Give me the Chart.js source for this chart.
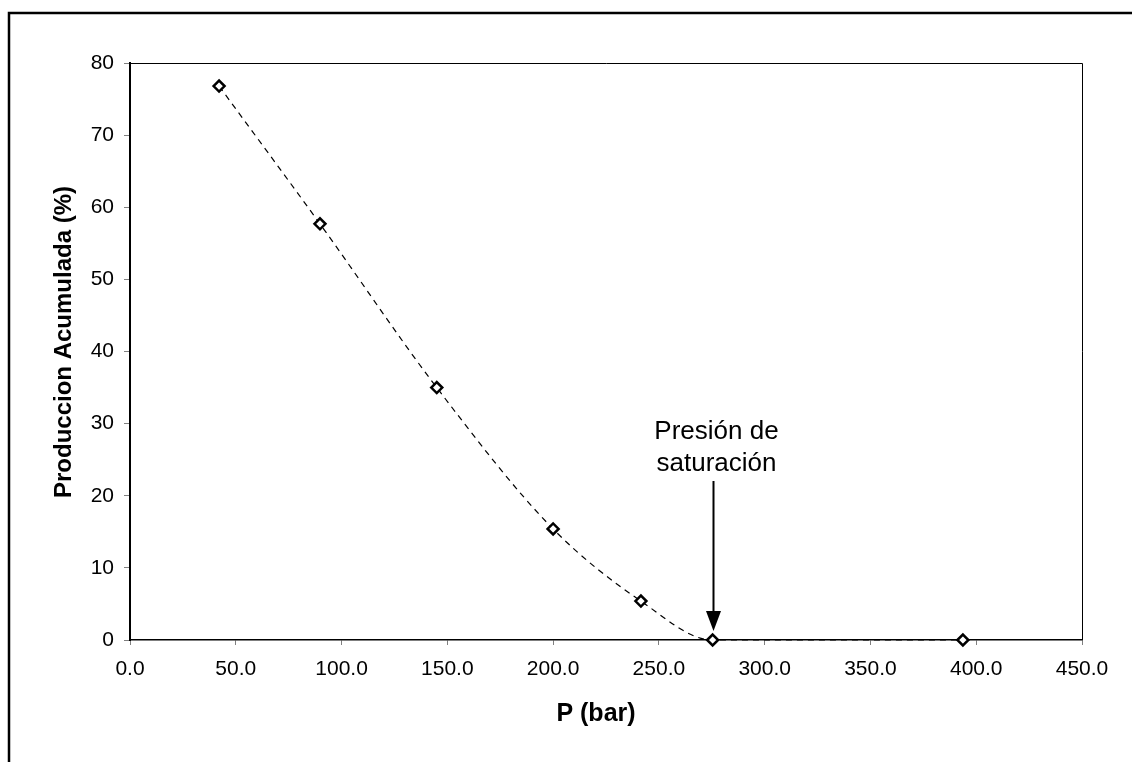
<!DOCTYPE html>
<html>
<head>
<meta charset="utf-8">
<script src="https://cdn.jsdelivr.net/npm/chart.js@4.4.1/dist/chart.umd.min.js"></script>
<style>
  html, body { margin: 0; padding: 0; background: #fff; }
</style>
</head>
<body>
<canvas id="chart" width="1132" height="762"></canvas>
<script>
// presión (bar) vs producción acumulada (%)
const presion = [42.1, 89.8, 145.0, 200.0, 241.5, 275.4, 393.7];
const produccion = [76.8, 57.7, 35.0, 15.4, 5.4, 0.0, 0.0];
const xTicks = [0, 50, 100, 150, 200, 250, 300, 350, 400, 450];
const yTicks = [0, 10, 20, 30, 40, 50, 60, 70, 80];
const presionSaturacion = 275.4;
const notaSaturacion = ['Presión de', 'saturación'];
const tituloX = 'P (bar)';
const tituloY = 'Produccion Acumulada (%)';

const FONT = "'Liberation Sans', Arial, sans-serif";

// marco exterior, borde del area, titulos de ejes y flecha
const extras = {
  id: 'extras',
  beforeDraw(chart) {
    const ctx = chart.ctx;
    ctx.save();
    ctx.fillStyle = '#fff';
    ctx.fillRect(0, 0, chart.width, chart.height);
    ctx.restore();
  },
  beforeDatasetsDraw(chart) {
    const { ctx, chartArea: a } = chart;
    ctx.save();
    ctx.strokeStyle = '#000';
    ctx.lineWidth = 1;
    ctx.beginPath();
    ctx.moveTo(a.left, a.top + 0.5);
    ctx.lineTo(a.right + 0.5, a.top + 0.5);
    ctx.lineTo(a.right + 0.5, a.bottom);
    ctx.stroke();
    ctx.restore();
  },
  afterDraw(chart) {
    const { ctx, scales } = chart;
    ctx.save();

    // marco
    ctx.strokeStyle = '#000';
    ctx.lineWidth = 2.5;
    ctx.beginPath();
    ctx.moveTo(chart.width, 13);
    ctx.lineTo(9, 13);
    ctx.lineTo(9, chart.height);
    ctx.stroke();

    // titulos
    ctx.fillStyle = '#000';
    ctx.textAlign = 'center';
    ctx.textBaseline = 'middle';
    ctx.font = 'bold 25px ' + FONT;
    ctx.fillText(tituloX, 596, 714);
    ctx.font = 'bold 24px ' + FONT;
    ctx.save();
    ctx.translate(64, 342);
    ctx.rotate(-Math.PI / 2);
    ctx.fillText(tituloY, 0, 0);
    ctx.restore();

    // flecha de presion de saturacion
    const x = Math.round(scales.x.getPixelForValue(presionSaturacion)) + 0.5;
    const tip = scales.y.getPixelForValue(0) - 9;
    ctx.lineWidth = 2;
    ctx.beginPath();
    ctx.moveTo(x, tip - 150);
    ctx.lineTo(x, tip - 18);
    ctx.stroke();
    ctx.beginPath();
    ctx.moveTo(x - 7.5, tip - 20);
    ctx.lineTo(x + 7.5, tip - 20);
    ctx.lineTo(x, tip);
    ctx.closePath();
    ctx.fill();

    ctx.font = '26px ' + FONT;
    ctx.textBaseline = 'alphabetic';
    ctx.fillText(notaSaturacion[0], x + 3, tip - 192);
    ctx.fillText(notaSaturacion[1], x + 3, tip - 160);
    ctx.restore();
  }
};

const tickFont = { family: FONT, size: 21 };

new Chart(document.getElementById('chart'), {
  type: 'line',
  data: {
    datasets: [{
      data: presion.map((p, i) => ({ x: p, y: produccion[i] })),
      borderColor: '#000',
      borderWidth: 1.2,
      borderDash: [6, 5],
      cubicInterpolationMode: 'monotone',
      pointStyle: 'rectRot',
      pointRadius: 5.5,
      pointBorderWidth: 2.5,
      pointBackgroundColor: '#fff',
      pointBorderColor: '#000',
      clip: false
    }]
  },
  options: {
    responsive: false,
    animation: false,
    layout: { padding: { top: 63, right: 50, left: 0, bottom: 0 } },
    plugins: {
      legend: { display: false },
      tooltip: { enabled: false }
    },
    scales: {
      x: {
        type: 'linear',
        min: 0,
        max: 450,
        afterBuildTicks: s => { s.ticks = xTicks.map(v => ({ value: v })); },
        afterFit: s => { s.height = 122; },
        ticks: {
          callback: v => v.toFixed(1),
          font: tickFont,
          color: '#000',
          padding: 12,
          maxRotation: 0
        },
        grid: { drawOnChartArea: false, tickLength: 5, tickColor: '#808080', tickWidth: 1 },
        border: { color: '#000', width: 1.5 }
      },
      y: {
        type: 'linear',
        min: 0,
        max: 80,
        afterBuildTicks: s => { s.ticks = yTicks.map(v => ({ value: v })); },
        afterFit: s => { s.width = 130; },
        ticks: {
          font: tickFont,
          color: '#000',
          padding: 10
        },
        grid: { drawOnChartArea: false, tickLength: 6, tickColor: '#808080', tickWidth: 1 },
        border: { color: '#000', width: 2 }
      }
    }
  },
  plugins: [extras]
});
</script>
</body>
</html>
